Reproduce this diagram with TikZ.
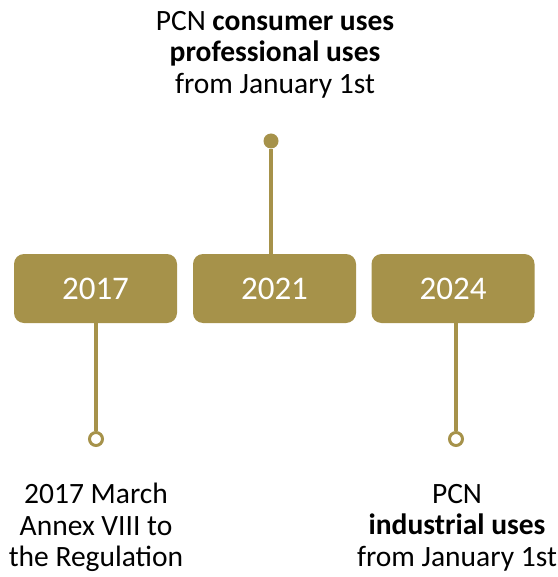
\documentclass[tikz,border=0pt]{standalone}
\usepackage{fontspec}
\setmainfont{Carlito}
\usetikzlibrary{positioning}
\definecolor{olivegold}{HTML}{A6924A}

\begin{document}
\begin{tikzpicture}[x=1pt, y=-1pt,
    year/.style={rectangle, rounded corners=10pt, fill=olivegold, text=white,
        minimum width=163pt, minimum height=69pt, inner sep=0pt,
        font=\fontsize{33}{36}\selectfont},
    hollow/.style={circle, draw=olivegold, fill=white, line width=3pt, minimum size=13pt, inner sep=0pt},
    fulldot/.style={circle, fill=olivegold, minimum size=15pt, inner sep=0pt},
    stem/.style={draw=olivegold, line width=4pt},
    note/.style={align=center, inner sep=0pt, anchor=north, font=\fontsize{29.5}{31.5}\selectfont}
]
    \useasboundingbox (0,0) rectangle (557,577);

    % years
    \node[year] (y2017) at (95.5,288.5) {2017};
    \node[year] (y2021) at (274.5,288.5) {2021};
    \node[year] (y2024) at (453,288.5) {2024};

    % ends of the stems
    \node[hollow] (c2017) at (96,439) {};
    \node[fulldot] (d2021) at (271,141) {};
    \node[hollow] (c2024) at (456,439) {};

    % stems
    \draw[stem] (y2017.south -| c2017) -- (c2017.north);
    \draw[stem] (y2021.north -| d2021) -- (d2021);
    \draw[stem] (y2024.south -| c2024) -- (c2024.north);

    % notes
    \node[note] (n2021) at (275,11) {PCN \textbf{consumer uses}\\\textbf{professional uses}\\from January 1st};
    \node[note] (n2017) at (96,483) {2017 March\\Annex VIII to\\the Regulation};
    \node[note] (n2024) at (457,484) {PCN\\\textbf{industrial uses}\\from January 1st};
\end{tikzpicture}
\end{document}
